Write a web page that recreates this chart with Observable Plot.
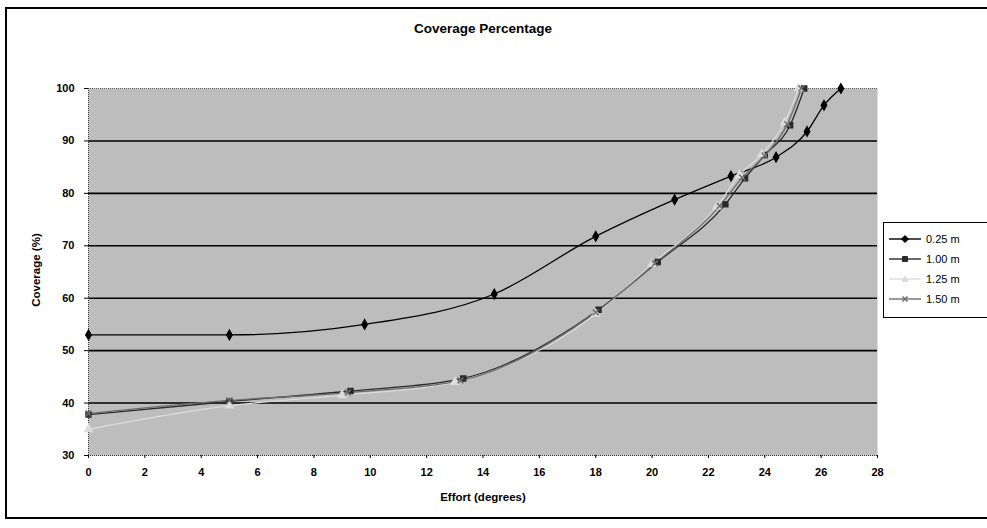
<!DOCTYPE html>
<html>
<head>
<meta charset="utf-8">
<script src="https://cdn.jsdelivr.net/npm/d3@7"></script>
<script src="https://cdn.jsdelivr.net/npm/@observablehq/plot@0.6"></script>
<style>
  html, body { margin: 0; padding: 0; background: #fff; }
  #wrap { position: relative; width: 987px; height: 528px; overflow: hidden; font-family: "Liberation Sans", Arial, sans-serif; }
  #frame { position: absolute; left: 5px; top: 7px; width: 1000px; height: 512px; border: 2px solid #000; box-sizing: border-box; }
  #title { position: absolute; left: 0; width: 966px; top: 21px; text-align: center; font-size: 13.5px; font-weight: bold; color: #000; }
  #xlab { position: absolute; left: 0; width: 966px; top: 491px; text-align: center; font-size: 11.5px; font-weight: bold; color: #000; }
  #ylab { position: absolute; left: 36px; top: 270px; transform: translate(-50%, -50%) rotate(-90deg); font-size: 11.5px; font-weight: bold; white-space: nowrap; }
  #legend { position: absolute; left: 883px; top: 222px; width: 120px; height: 96px; border: 1.5px solid #000; background: #fff; box-sizing: border-box; }
  #legend .item { position: absolute; left: 4px; height: 14px; display: flex; align-items: center; font-size: 11px; }
  #legend svg { margin-right: 4px; }
  #chart { position: absolute; left: 0; top: 0; }
</style>
</head>
<body>
<div id="wrap">
  <div id="chart"></div>
  <div id="frame"></div>
  <div id="title">Coverage Percentage</div>
  <div id="xlab">Effort (degrees)</div>
  <div id="ylab">Coverage (%)</div>
  <div id="legend"></div>
</div>
<script>
// Series names
const seriesNames = ["0.25 m", "1.00 m", "1.25 m", "1.50 m"];

// Effort (degrees) and Coverage (%) per series
const effort025 = [0, 5, 9.8, 14.4, 18, 20.8, 22.8, 24.4, 25.5, 26.1, 26.7];
const cover025  = [53, 53, 55, 60.8, 71.8, 78.8, 83.3, 86.9, 91.8, 96.8, 100];

const effort100 = [0, 5, 9.3, 13.3, 18.1, 20.2, 22.6, 23.3, 24.0, 24.9, 25.4];
const cover100  = [37.8, 40.3, 42.3, 44.7, 57.8, 66.9, 77.9, 82.9, 87.3, 93.0, 100];

const effort125 = [0, 5, 9.0, 13.0, 18.0, 20.0, 22.3, 23.1, 23.9, 24.7, 25.2];
const cover125  = [35, 39.5, 41.5, 44, 57, 66.5, 77.5, 83.5, 87.5, 93.5, 100];

const effort150 = [0, 5, 9.2, 13.2, 18.0, 20.1, 22.4, 23.2, 24.0, 24.8, 25.3];
const cover150  = [38, 40.5, 42, 44.3, 57.3, 66.6, 77.6, 83, 87.2, 93.2, 100];

// Axis ticks
const xTicks = [0, 2, 4, 6, 8, 10, 12, 14, 16, 18, 20, 22, 24, 26, 28];
const yTicks = [30, 40, 50, 60, 70, 80, 90, 100];
const gridY  = [40, 50, 60, 70, 80, 90];

// Styles
const colors  = ["#000000", "#2a2a2a", "#dcdcdc", "#6e6e6e"];
const symbols = ["diamond", "square", "triangle", "times"];

const effortArrays = [effort025, effort100, effort125, effort150];
const coverArrays  = [cover025, cover100, cover125, cover150];

const data = [];
seriesNames.forEach((s, i) => {
  effortArrays[i].forEach((e, j) => data.push({series: s, effort: e, coverage: coverArrays[i][j]}));
});

const plot = Plot.plot({
  width: 987,
  height: 528,
  marginLeft: 88,
  marginRight: 110,
  marginTop: 88,
  marginBottom: 73,
  style: {fontFamily: "'Liberation Sans', Arial, sans-serif", fontSize: "11px", color: "#000", background: "transparent"},
  x: {domain: [0, 28], ticks: xTicks, tickSize: 3, tickPadding: 10, label: null},
  y: {domain: [30, 100], ticks: yTicks, tickSize: 4, tickPadding: 10, label: null},
  color: {domain: seriesNames, range: colors},
  symbol: {domain: seriesNames, range: symbols},
  marks: [
    Plot.frame({fill: "#bdbdbd", stroke: null}),
    Plot.ruleY(gridY, {stroke: "#000", strokeWidth: 1.6}),
    Plot.ruleY([100], {stroke: "#555", strokeWidth: 1, strokeDasharray: "1,1"}),
    Plot.ruleX([0], {stroke: "#333", strokeWidth: 1, strokeDasharray: "1,1"}),
    Plot.ruleY([30], {stroke: "#333", strokeWidth: 1, strokeDasharray: "1,1"}),
    Plot.line(data, {x: "effort", y: "coverage", z: "series", stroke: "series", strokeWidth: 1.3, curve: "monotone-x"}),
    Plot.dot(data, {x: "effort", y: "coverage", symbol: "series", fill: "series", stroke: "series", r: 2.8}),
    Plot.axisX({ticks: xTicks, tickSize: 3, tickPadding: 10, fontSize: 11, fontWeight: "bold"}),
    Plot.axisY({ticks: yTicks, tickSize: 4, tickPadding: 10, fontSize: 11, fontWeight: "bold"})
  ]
});
document.getElementById("chart").appendChild(plot);

// Legend
const legend = document.getElementById("legend");
const symbolPaths = {
  diamond: "M0,-3.5L3.5,0L0,3.5L-3.5,0Z",
  square: "M-2.5,-2.5H2.5V2.5H-2.5Z",
  triangle: "M0,-3L3,2.5L-3,2.5Z",
  times: "M-2.5,-2.5L2.5,2.5M2.5,-2.5L-2.5,2.5"
};
seriesNames.forEach((s, i) => {
  const item = document.createElement("div");
  item.className = "item";
  item.style.top = (9 + i * 20) + "px";
  const sym = symbols[i];
  const fillAttr = sym === "times" ? `fill="none" stroke="${colors[i]}" stroke-width="1.5"` : `fill="${colors[i]}" stroke="${colors[i]}"`;
  item.innerHTML = `<svg width="34" height="12"><line x1="1" x2="33" y1="6" y2="6" stroke="${colors[i]}" stroke-width="1.4"/><path transform="translate(17,6)" d="${symbolPaths[sym]}" ${fillAttr}/></svg><span>${s}</span>`;
  legend.appendChild(item);
});
</script>
</body>
</html>
